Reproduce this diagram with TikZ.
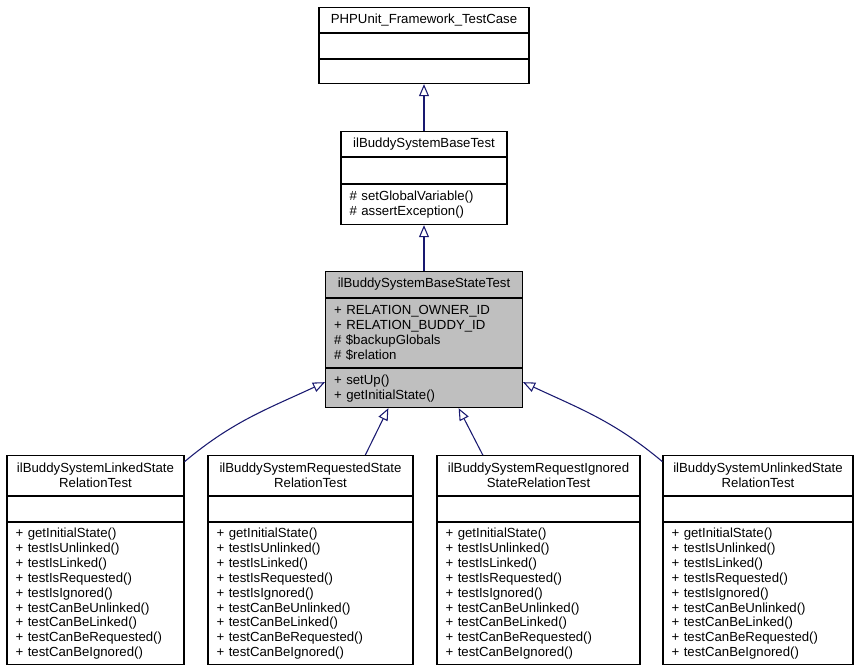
\documentclass[tikz,border=0pt]{standalone}
\usepackage{fontspec}
\setmainfont{Liberation Sans}
\usetikzlibrary{positioning,arrows.meta,calc}

\definecolor{edgeblue}{HTML}{191970}
\definecolor{boxgray}{HTML}{BFBFBF}

\newcommand{\relmethods}{+ getInitialState()\\+ testIsUnlinked()\\+ testIsLinked()\\%
+ testIsRequested()\\+ testIsIgnored()\\+ testCanBeUnlinked()\\+ testCanBeLinked()\\%
+ testCanBeRequested()\\+ testCanBeIgnored()}

\tikzset{
  cpart/.style={draw, line width=0.8pt, inner xsep=6.5pt, inner ysep=0pt, anchor=north,
    font=\fontsize{9.9}{11.2}\selectfont},
  ctitle/.style={cpart, align=center},
  cbody/.style={cpart, align=left},
  inherit/.style={edgeblue, line width=0.8pt, -{Triangle[open, length=9pt, width=7.5pt]}},
}

\begin{document}
\begin{tikzpicture}[x=0.75pt, y=-0.75pt]
  \useasboundingbox (0,0) rectangle (861,669);

  % PHPUnit base class
  \node[ctitle, minimum width=157.5pt, minimum height=18.75pt] (tc) at (424,7) {PHPUnit\_Framework\_TestCase};
  \node[cpart, minimum width=157.5pt, minimum height=18.75pt, below=0pt of tc] (tca) {};
  \node[cpart, minimum width=157.5pt, minimum height=18pt, below=0pt of tca] (tcm) {};

  % ilBuddySystemBaseTest
  \node[ctitle, minimum width=124.5pt, minimum height=18.75pt] (bt) at (424,131) {ilBuddySystemBaseTest};
  \node[cpart, minimum width=124.5pt, minimum height=19.5pt, below=0pt of bt] (bta) {};
  \node[cbody, text width=111.5pt, minimum height=30pt, below=0pt of bta] (btm) {\# setGlobalVariable()\\\# assertException()};

  % ilBuddySystemBaseStateTest
  \node[ctitle, fill=boxgray, minimum width=147.75pt, minimum height=19.5pt] (st) at (424,271) {ilBuddySystemBaseStateTest};
  \node[cbody, fill=boxgray, text width=134.75pt, minimum height=51.75pt, below=0pt of st] (sta)
    {+ RELATION\_OWNER\_ID\\+ RELATION\_BUDDY\_ID\\\# \$backupGlobals\\\# \$relation};
  \node[cbody, fill=boxgray, text width=134.75pt, minimum height=29.25pt, below=0pt of sta] (stm)
    {+ setUp()\\+ getInitialState()};

  % derived state tests
  \node[ctitle, minimum width=132.75pt, minimum height=30pt] (lkt) at (95.5,455) {ilBuddySystemLinkedState\\RelationTest};
  \node[cpart, minimum width=132.75pt, minimum height=18.75pt, below=0pt of lkt] (lka) {};
  \node[cbody, text width=119.75pt, minimum height=106.5pt, below=0pt of lka] (lkm) {\relmethods};

  \node[ctitle, minimum width=153.75pt, minimum height=30pt] (rqt) at (310.5,455) {ilBuddySystemRequestedState\\RelationTest};
  \node[cpart, minimum width=153.75pt, minimum height=18.75pt, below=0pt of rqt] (rqa) {};
  \node[cbody, text width=140.75pt, minimum height=106.5pt, below=0pt of rqa] (rqm) {\relmethods};

  \node[ctitle, minimum width=152.25pt, minimum height=30pt] (igt) at (538.5,455) {ilBuddySystemRequestIgnored\\StateRelationTest};
  \node[cpart, minimum width=152.25pt, minimum height=18.75pt, below=0pt of igt] (iga) {};
  \node[cbody, text width=139.25pt, minimum height=106.5pt, below=0pt of iga] (igm) {\relmethods};

  \node[ctitle, minimum width=142.5pt, minimum height=30pt] (ult) at (758,455) {ilBuddySystemUnlinkedState\\RelationTest};
  \node[cpart, minimum width=142.5pt, minimum height=18.75pt, below=0pt of ult] (ula) {};
  \node[cbody, text width=129.5pt, minimum height=106.5pt, below=0pt of ula] (ulm) {\relmethods};

  % inheritance
  \draw[inherit] (bt.north) -- (tcm.south);
  \draw[inherit] (st.north) -- (btm.south);
  \draw[inherit] ([yshift=-5pt]lkt.north east) to[out=40, in=205] ([yshift=4.5pt]stm.west);
  \draw[inherit] ($(rqt.north west)!0.766!(rqt.north east)$) -- ($(stm.south west)!0.32!(stm.south east)$);
  \draw[inherit] ($(igt.north west)!0.227!(igt.north east)$) -- ($(stm.south west)!0.675!(stm.south east)$);
  \draw[inherit] ([yshift=-5pt]ult.north west) to[out=140, in=-25] ([yshift=4.5pt]stm.east);
\end{tikzpicture}
\end{document}
